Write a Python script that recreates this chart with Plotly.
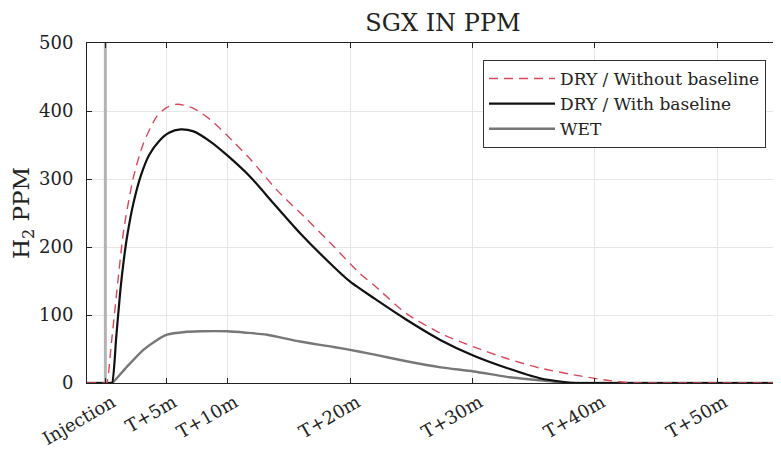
import plotly.graph_objects as go

# ---- data (minutes after injection, H2 ppm) ----
t_dry_nobase = [-1.5, 0.05, 0.12, 0.5, 0.95, 1.5, 2.3, 3.1, 4.2, 5.0, 5.9, 7.2, 8.6, 9.9, 11.9, 14.0, 16.5, 18.7,
                20.8, 22.0, 24.6, 27.4, 30.1, 32.8, 35.5, 38.3, 41.0, 43.2, 43.8, 56.0]
dry_nobase = [0, 0, 0, 60, 137, 225, 303, 352, 392, 405, 410, 404, 387, 365, 328, 284, 240, 200,
              161, 143, 102, 73, 53, 36, 22, 12, 4, 0, 0, 0]

t_dry_base = [-1.5, 0.45, 0.55, 0.9, 1.23, 1.5, 1.8, 2.3, 2.9, 3.6, 4.4, 5.2, 6.13, 7.2, 8.58, 9.94, 11.85,
              13.75, 15.93, 18.65, 20.0, 22.0, 24.6, 27.4, 30.1, 32.8, 35.5, 37.5, 38.5, 39.0, 56.0]
dry_base = [0, 0, 0, 70, 137, 180, 218, 265, 305, 336, 356, 368, 373, 370, 355, 335, 303,
            264, 220, 171, 149, 124, 93, 63, 40, 22, 7, 1.5, 0, 0, 0]

t_wet = [-1.5, 0.45, 0.55, 1.77, 3.13, 4.2, 5.04, 6.5, 7.76, 9.94, 11.5, 13.2, 15.9, 18.65, 20.8, 21.9,
         24.6, 27.4, 30.1, 32.8, 35.5, 37.7, 38.2, 56.0]
wet = [0, 0, 0, 24, 49, 63, 71, 75, 76, 76, 74, 71, 61, 53, 46, 42,
       32, 23, 17, 9, 4, 0, 0, 0]

injection_t = [0, 0]
injection_y = [0, 500]

tick_vals = [0, 5, 10, 20, 30, 40, 50]
tick_text = ["Injection", "T+5m", "T+10m", "T+20m", "T+30m", "T+40m", "T+50m"]
y_ticks = [0, 100, 200, 300, 400, 500]

FONT = "DejaVu Serif"
TXT = "#222222"

fig = go.Figure()
fig.add_trace(go.Scatter(x=injection_t, y=injection_y, mode="lines",
                         line=dict(color="#b4b4b4", width=3), showlegend=False, hoverinfo="skip"))
fig.add_trace(go.Scatter(x=t_wet, y=wet, mode="lines", name="WET",
                         line=dict(color="#777777", width=2.4, shape="spline", smoothing=0.7)))
fig.add_trace(go.Scatter(x=t_dry_base, y=dry_base, mode="lines", name="DRY / With baseline",
                         line=dict(color="#111111", width=2.2, shape="spline", smoothing=0.7)))
fig.add_trace(go.Scatter(x=t_dry_nobase, y=dry_nobase, mode="lines", name="DRY / Without baseline",
                         line=dict(color="#d9485a", width=1.4, dash="9px,6px", shape="spline", smoothing=0.7)))

fig.update_layout(
    width=773, height=441,
    margin=dict(l=79, r=0, t=35, b=66),
    paper_bgcolor="white", plot_bgcolor="white",
    font=dict(family=FONT, size=17, color=TXT),
    title=dict(text="SGX IN PPM", x=0.5627, xanchor="center", y=0.968, yanchor="middle",
               font=dict(family=FONT, size=24, color=TXT)),
    legend=dict(x=0.5706, y=0.95, xanchor="left", yanchor="top",
                traceorder="reversed", bgcolor="white", bordercolor="#333333", borderwidth=1,
                font=dict(family=FONT, size=17, color=TXT), itemwidth=66),
    showlegend=True,
)
fig.update_xaxes(range=[-1.5, 55.2], tickvals=tick_vals, ticktext=tick_text, tickangle=-30,
                 showline=True, linecolor="#222222", linewidth=1, mirror="ticks",
                 ticks="inside", ticklen=5, tickcolor="#222222",
                 ticklabelshift=7, ticklabelstandoff=1,
                 showgrid=True, gridcolor="#e6e6e6", gridwidth=1, zeroline=False,
                 tickfont=dict(family=FONT, size=18, color=TXT), automargin=False)
fig.update_yaxes(range=[0, 500], tickvals=y_ticks,
                 showline=True, linecolor="#222222", linewidth=1, mirror="ticks",
                 ticks="inside", ticklen=5, tickcolor="#222222", ticklabelstandoff=9,
                 showgrid=True, gridcolor="#e6e6e6", gridwidth=1, zeroline=False,
                 tickfont=dict(family=FONT, size=18, color=TXT),
                 title=dict(text="H<sub>2</sub> PPM", standoff=8,
                            font=dict(family=FONT, size=23, color=TXT)),
                 automargin=False)

fig.write_html("out.html")
